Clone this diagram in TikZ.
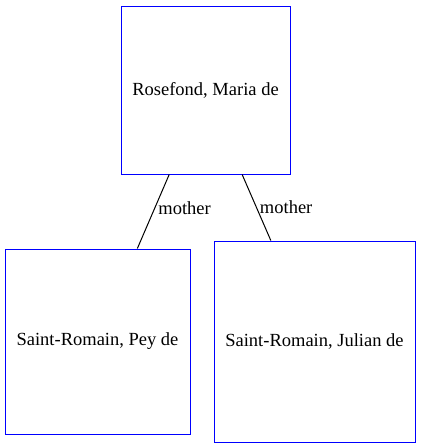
\documentclass[tikz,border=0pt]{standalone}
\usepackage{fontspec}
\setmainfont{Liberation Serif}
\usetikzlibrary{positioning}
\tikzset{
	person/.style={
		rectangle,
		draw=blue,
		line width=1pt,
		align=center,
		inner sep=0pt,
		font=\fontsize{18.5}{22}\selectfont
	},
	rel/.style={
		font=\fontsize{18.5}{22}\selectfont,
		inner sep=3pt
	}
}
\begin{document}
\begin{tikzpicture}[x=1pt, y=-1pt]
		\useasboundingbox (0,0) rectangle (421,448);
		\draw node[person, minimum width=169pt, minimum height=168pt] (Maria) at (205.5,90) {Rosefond, Maria de};
		\draw node[person, minimum width=185pt, minimum height=185pt] (Pey) at (97.5,341.5) {Saint-Romain, Pey de};
		\draw node[person, minimum width=201pt, minimum height=201pt] (Julian) at (314.5,341.5) {Saint-Romain, Julian de};
		
		\draw[line width=1pt] (Maria) -- node[pos=0.45, rel, anchor=west]{mother} (Pey);
		\draw[line width=1pt] (Maria) -- node[pos=0.5, rel, anchor=west]{mother} (Julian);
	\end{tikzpicture}
\end{document}
